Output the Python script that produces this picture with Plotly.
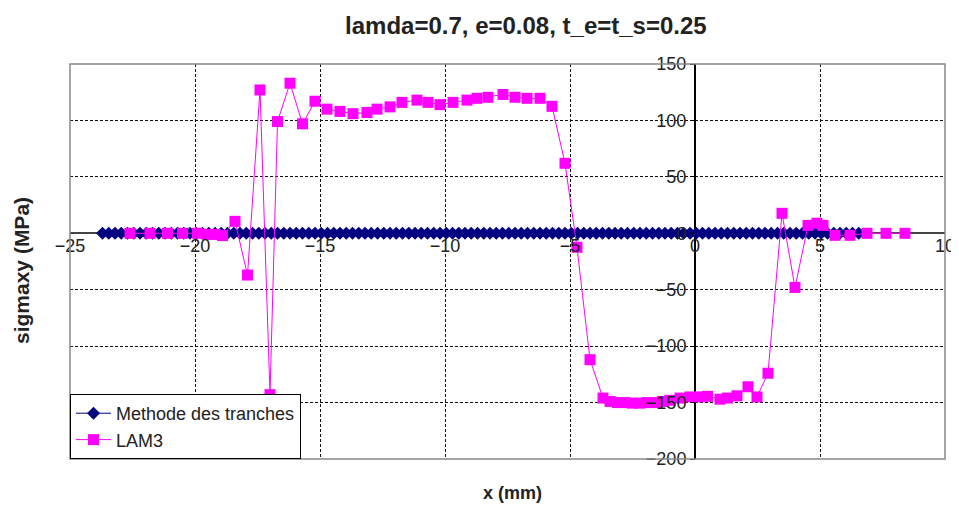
import plotly.graph_objects as go

# Methode des tranches (all values zero along the slice positions)
tranches_x = [-23.7, -23.45, -23.2, -22.95, -22.7, -22.45, -22.2, -21.95, -21.7, -21.45,
              -21.2, -20.95, -20.7, -20.45, -20.2, -19.95, -19.7, -19.45, -19.2, -18.95,
              -18.7, -18.45, -18.2, -17.95, -17.7, -17.45, -17.2, -16.95, -16.7, -16.45,
              -16.2, -15.95, -15.7, -15.45, -15.2, -14.95, -14.7, -14.45, -14.2, -13.95,
              -13.7, -13.45, -13.2, -12.95, -12.7, -12.45, -12.2, -11.95, -11.7, -11.45,
              -11.2, -10.95, -10.7, -10.45, -10.2, -9.95, -9.7, -9.45, -9.2, -8.95,
              -8.7, -8.45, -8.2, -7.95, -7.7, -7.45, -7.2, -6.95, -6.7, -6.45,
              -6.2, -5.95, -5.7, -5.45, -5.2, -4.95, -4.7, -4.45, -4.2, -3.95,
              -3.7, -3.45, -3.2, -2.95, -2.7, -2.45, -2.2, -1.95, -1.7, -1.45,
              -1.2, -0.95, -0.7, -0.45, -0.2, 0.05, 0.3, 0.55, 0.8, 1.05,
              1.3, 1.55, 1.8, 2.05, 2.3, 2.55, 2.8, 3.05, 3.3, 3.55,
              3.8, 4.05, 4.3, 4.55, 4.8, 5.05, 5.3, 5.55, 5.8, 6.05, 6.3, 6.55]
tranches_y = [0.0] * len(tranches_x)

# LAM3
lam3_x = [-22.6, -21.8, -21.1, -20.5, -19.9, -19.5, -19.2, -18.9,
          -18.4, -17.9, -17.4, -17.0, -16.7, -16.2, -15.7, -15.2,
          -14.72, -14.2, -13.68, -13.12, -12.72, -12.2, -11.72, -11.12, -10.68,
          -10.2, -9.68, -9.12, -8.72, -8.28, -7.68, -7.2, -6.72, -6.2, -5.72,
          -5.2, -4.72, -4.2, -3.68, -3.4, -3.1, -2.8, -2.5, -2.2, -1.9, -1.6,
          -1.3, -1.0, -0.6, -0.2, 0.2, 0.5, 1.0, 1.3, 1.68, 2.12, 2.48, 2.92,
          3.48, 4.0, 4.52, 4.88, 5.12, 5.6, 6.2, 6.88, 7.64, 8.4]
lam3_y = [0, 0, 0, 0, 0, -1, -1, -2,
          10.6, -37, 127, -143, 99, 133, 97, 117,
          110, 108, 106, 107, 110, 112, 116, 118, 116,
          114, 116, 118, 119.6, 120.5, 123, 120.5, 119.6, 119.6, 112.5,
          62, -12.4, -112, -146, -149, -150, -150, -150.5, -150.5, -150, -150,
          -149, -148, -146, -145, -145, -144.5, -147, -146, -144, -136, -145, -124,
          17.7, -48, 7, 8.9, 7, -1.8, -1.8, 0, 0, 0]

x_ticks = [-25, -20, -15, -10, -5, 0, 5, 10]
y_ticks = [-200, -150, -100, -50, 0, 50, 100, 150]

FONT = "Liberation Sans, Arial, sans-serif"
TXT = "#222222"

# page body has an 8px margin: size the figure so it fills the window exactly
W, H = 951, 497

fig = go.Figure()
fig.add_trace(go.Scatter(
    x=tranches_x, y=tranches_y, mode="lines+markers", name="Methode des tranches",
    line=dict(color="#000080", width=1),
    marker=dict(symbol="diamond", size=10, color="#000080"),
))
fig.add_trace(go.Scatter(
    x=lam3_x, y=lam3_y, mode="lines+markers", name="LAM3",
    line=dict(color="#FF00FF", width=1),
    marker=dict(symbol="square", size=11, color="#FF00FF"),
))

fig.update_layout(
    width=W, height=H,
    margin=dict(l=62, r=14, t=56, b=46),
    paper_bgcolor="white", plot_bgcolor="white",
    font=dict(family=FONT, size=17, color=TXT),
    title=dict(text="<b>lamda=0.7, e=0.08, t_e=t_s=0.25</b>", x=0.521, xref="paper",
               xanchor="center", y=1 - 18 / H, yanchor="middle",
               font=dict(size=24, color=TXT)),
    xaxis=dict(range=[-25, 10], tickvals=x_ticks, anchor="free", position=(459 - 233) / 395,
               showgrid=True, gridcolor="#111111", griddash="3px,2px", gridwidth=1,
               zeroline=True, zerolinecolor="black", zerolinewidth=1.5,
               showline=False, ticks="", automargin=False,
               tickfont=dict(size=18, color=TXT)),
    yaxis=dict(range=[-200, 150], tickvals=y_ticks, anchor="free", position=(695 - 70) / 875,
               showgrid=True, gridcolor="#111111", griddash="3px,2px", gridwidth=1,
               zeroline=True, zerolinecolor="#444444", zerolinewidth=1.5,
               showline=False, ticks="outside", ticklen=5, tickcolor="black",
               automargin=False, tickfont=dict(size=18, color=TXT)),
    legend=dict(x=0, y=0, xanchor="left", yanchor="bottom", bgcolor="white",
                bordercolor="black", borderwidth=1, font=dict(size=18, color=TXT),
                tracegroupgap=0, itemwidth=35),
    showlegend=True,
)

fig.add_shape(type="rect", xref="paper", yref="paper", x0=0, y0=0, x1=1, y1=1,
              line=dict(color="#888888", width=1.5), layer="above")

fig.add_annotation(text="<b>x (mm)</b>", xref="paper", yref="paper", x=0.506,
                   y=-(493 - 459) / 395, showarrow=False, yanchor="middle",
                   font=dict(size=18, color=TXT))
fig.add_annotation(text="<b>sigmaxy (MPa)</b>", xref="paper", yref="paper",
                   x=-(70 - 21) / 875, y=(459 - 271) / 395, textangle=-90,
                   showarrow=False, xanchor="center", yanchor="middle",
                   font=dict(size=21, color=TXT))

fig.write_html("out.html")
